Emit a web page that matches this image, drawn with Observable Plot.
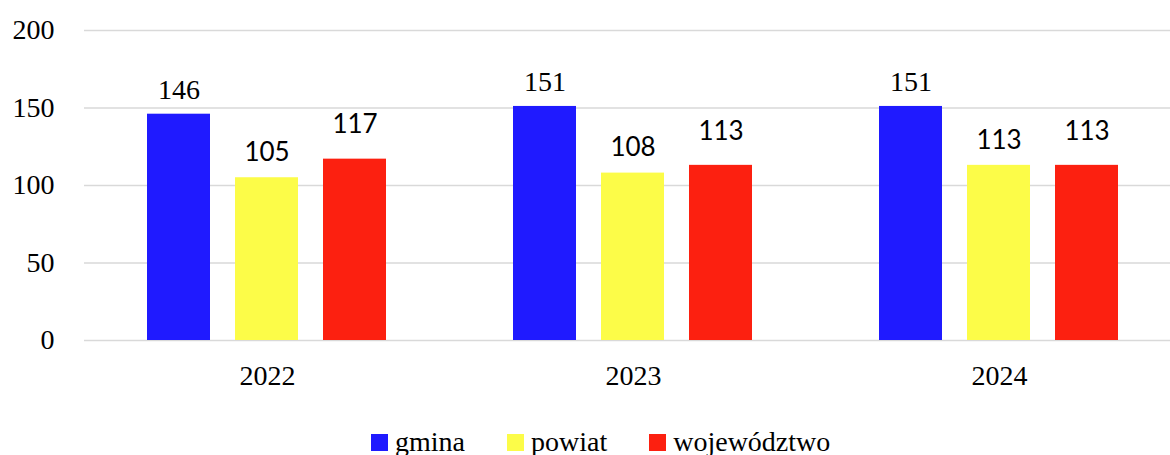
<!DOCTYPE html>
<html><head><meta charset="utf-8">
<script src="https://cdn.jsdelivr.net/npm/d3@7"></script>
<script src="https://cdn.jsdelivr.net/npm/@observablehq/plot@0.6"></script>
<style>
html,body{margin:0;padding:0;background:#fff;overflow:hidden;width:1170px;height:455px;position:relative;}
#chart svg{display:block;}
#chart svg text{font-family:"Liberation Serif","Times New Roman",serif !important;}
#chart svg g.sans text{font-family:"Lato",sans-serif !important;}
.legend{position:absolute;left:371px;top:428px;display:flex;align-items:baseline;font-family:"Liberation Serif",serif;font-size:28px;line-height:28px;color:#000;white-space:nowrap;}
.legend .item{display:flex;align-items:baseline;margin-right:42px;}
.legend .sw{display:inline-block;width:17px;height:17px;margin-right:7px;}
</style></head>
<body>
<div id="chart"></div>
<div class="legend" id="legend"></div>
<script>
const years = ["2022", "2023", "2024"];
const series = ["gmina", "powiat", "województwo"];
const gmina = [146, 151, 151];
const powiat = [105, 108, 113];
const wojewodztwo = [117, 113, 113];
const colors = ["#1f1aff", "#fcfc48", "#fc2010"];
const yTicks = [0, 50, 100, 150, 200];

const seriesValues = [gmina, powiat, wojewodztwo];
const data = years.flatMap((yr, i) => series.map((s, j) => ({year: yr, series: s, value: seriesValues[j][i]})));

const sans = "Lato";

const chart = Plot.plot({
  width: 1170,
  height: 420,
  marginTop: 30,
  marginBottom: 80,
  marginLeft: 83,
  marginRight: -13,
  style: {fontSize: "28px", color: "#000", background: "#fff"},
  fx: {domain: years, padding: 0, label: null},
  x: {domain: series, paddingInner: 0.28, paddingOuter: 0.7, axis: null},
  y: {domain: [0, 200], label: null},
  color: {domain: series, range: colors},
  marks: [
    Plot.gridY(yTicks, {stroke: "#d9d9d9", strokeOpacity: 1, strokeWidth: 1.5}),
    Plot.axisY(yTicks, {tickSize: 0, tickPadding: 30, label: null, fontSize: 28}),
    Plot.axisFx({anchor: "bottom", tickSize: 0, tickPadding: 25, label: null, fontSize: 28}),
    Plot.barY(data, {fx: "year", x: "series", y: "value", fill: "series"}),
    Plot.text(data.filter(d => d.series === "gmina"), {fx: "year", x: "series", y: "value", text: d => String(d.value), dy: -24, fontSize: 28, fill: "#000"}),
    Plot.text(data.filter(d => d.series === "powiat"), {fx: "year", x: "series", y: "value", text: d => String(d.value), dy: -25, fontFamily: sans, fontSize: 26, fill: "#000"}),
    Plot.text(data.filter(d => d.series === "województwo"), {fx: "year", x: "series", y: "value", text: d => String(d.value), dy: -34, fontFamily: sans, fontSize: 26, fill: "#000"})
  ]
});
document.getElementById("chart").appendChild(chart);
chart.querySelectorAll("g[aria-label='text']").forEach((g, i) => { if (i > 0) g.classList.add("sans"); });

const legend = document.getElementById("legend");
series.forEach((s, i) => {
  const item = document.createElement("span");
  item.className = "item";
  const sw = document.createElement("span");
  sw.className = "sw";
  sw.style.background = colors[i];
  const label = document.createElement("span");
  label.textContent = s;
  item.appendChild(sw);
  item.appendChild(label);
  legend.appendChild(item);
});
</script>
</body></html>
